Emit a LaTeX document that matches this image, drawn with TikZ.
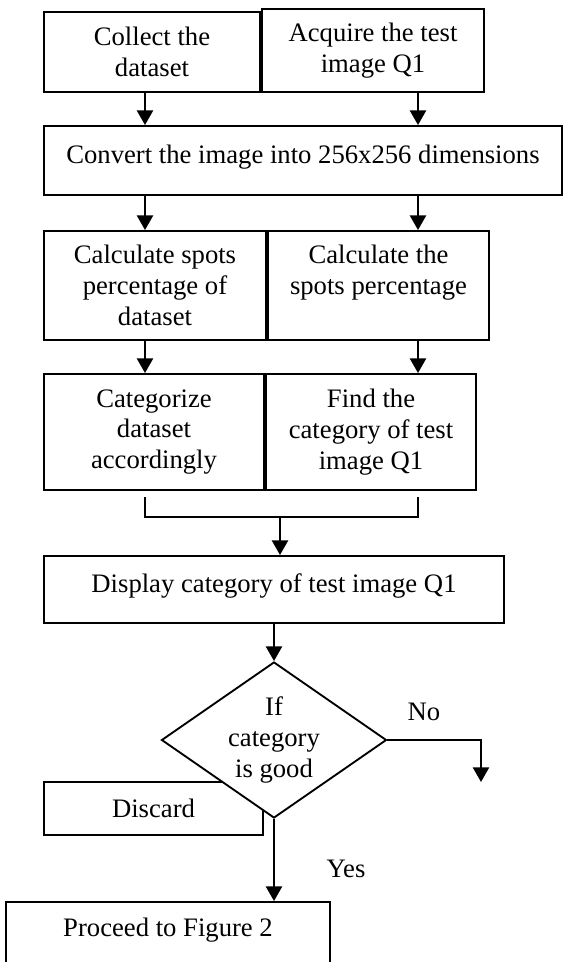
\documentclass[tikz,border=0pt]{standalone}
\usepackage{fontspec}
\setmainfont{Liberation Serif}
\usepackage{tikz}
\usetikzlibrary{arrows.meta,shapes.geometric}
\tikzset{
Boite/.style 2 args={
 draw=black, 
 line width=1.4pt, 
 align=center, 
 inner sep=0pt, 
 minimum width=#1*0.75pt, 
 minimum height=#2*0.75pt
 },
Losange/.style={
 diamond, 
 draw=black, 
 fill=white, 
 line width=1.4pt, 
 align=center, 
 aspect=1.44, 
 inner sep=0pt, 
 minimum width=225*0.75pt, 
 minimum height=156*0.75pt
 },
BFleche/.style={
 draw=black, 
 line width=1.8pt, 
 -{Triangle[length=11pt,width=12pt]}
 },
Trait/.style={
 draw=black, 
 line width=1.4pt
 }
}
\begin{document}
\begin{tikzpicture}[x=0.75pt,y=-0.75pt,font=\fontsize{20}{23}\selectfont]
\useasboundingbox (0,0) rectangle (563,962);
% colonnes
\coordinate (colG) at (145,0);
\coordinate (colD) at (418,0);
\node[Boite={216}{80}] (collect) at (152,52) {Collect the\\dataset};
\node[Boite={222}{83}] (acquire) at (373,50.5) {Acquire the test\\image Q1};
\node[Boite={518}{69},text depth=10pt] (convert) at (303,160.5) {Convert the image into 256x256 dimensions};
\node[Boite={222}{109}] (calcdata) at (155,285.5) {Calculate spots\\percentage of\\dataset};
\node[Boite={221}{109},text depth=24pt] (calcspots) at (378.5,285.5) {Calculate the\\spots percentage};
\node[Boite={220}{116}] (categ) at (154,432) {Categorize\\dataset\\accordingly};
\node[Boite={210}{116}] (findcat) at (371,432) {Find the\\category of test\\image Q1};
\node[Boite={460}{67},text depth=10pt] (display) at (274,589.5) {Display category of test image Q1};
\node[Boite={219}{53}] (discard) at (153.5,808.5) {Discard};
\node[Losange] (test) at (274,740) {If\\category\\is good};
\node[Boite={324}{64},text depth=10pt] (proceed) at (168,934) {Proceed to Figure 2};
\node (no) at (424,712) {No};
\node (yes) at (346,869) {Yes};
% fleches
\draw[BFleche] (collect.south -| colG) -- (convert.north -| colG);
\draw[BFleche] (acquire.south -| colD) -- (convert.north -| colD);
\draw[BFleche] (convert.south -| colG) -- (calcdata.north -| colG);
\draw[BFleche] (convert.south -| colD) -- (calcspots.north -| colD);
\draw[BFleche] (calcdata.south -| colG) -- (categ.north -| colG);
\draw[BFleche] (calcspots.south -| colD) -- (findcat.north -| colD);
% accolade
\coordinate (brG) at (145,497);
\coordinate (brD) at (418,497);
\coordinate (brM) at (280,517);
\draw[Trait] (brG) |- (brM) -| (brD);
\draw[BFleche] (brM) -- (display.north -| brM);
\draw[BFleche] (display.south) -- (test.north);
\coordinate (nonfin) at (481,782);
\draw[BFleche] (test.east) -| (nonfin);
\draw[BFleche] (test.south) -- (test.south |- proceed.north);
\end{tikzpicture}
\end{document}
